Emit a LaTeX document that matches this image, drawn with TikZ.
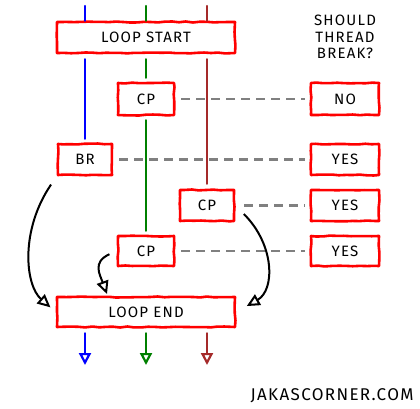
\documentclass[tikz,border=0pt]{standalone}
\usepackage{fontspec}
\usepackage{xcolor}
\usepackage{tikz}
\usetikzlibrary{arrows.meta,decorations.pathmorphing}
\newfontfamily\handfont[LetterSpace=8]{Fira Sans}
\definecolor{boxred}{RGB}{255, 0, 0}
\definecolor{threadblue}{RGB}{0, 0, 255}
\definecolor{threadgreen}{RGB}{0, 128, 0}
\definecolor{threadbrown}{RGB}{165, 42, 42}

\begin{document}
\begin{tikzpicture}[x = 1pt, y = -1pt,
	sketch/.style = {decorate, decoration = {random steps, segment length = 7pt, amplitude = 0.5pt}, line join = round},
	tag/.style = {draw = boxred, line width = 2.6pt, fill = white, inner sep = 0pt, font = \handfont\fontsize{15}{17}\selectfont, sketch},
	thread/.style = {line width = 2.4pt, line cap = round},
	answer/.style = {draw = gray, line width = 2.6pt, dash pattern = on 9pt off 6pt},
	flow/.style = {line width = 2pt, -{Triangle[open, length = 13pt, width = 12pt, line width = 2pt]}},
	exit/.style = {thread, -{Triangle[open, length = 12pt, width = 12pt, line width = 2.2pt]}}]
	\pgfmathsetseed{7}
	\useasboundingbox (0,0) rectangle (420,409);
	% boxes
	\node (ls) at (146,37.5) [tag, minimum width = 178pt, minimum height = 31pt] {LOOP START};
	\node (cpa) at (146,99) [tag, minimum width = 56pt, minimum height = 32pt] {CP};
	\node (br) at (85,159.5) [tag, minimum width = 54pt, minimum height = 31pt] {BR};
	\node (cpb) at (207,205.5) [tag, minimum width = 54pt, minimum height = 31pt] {CP};
	\node (cpc) at (146,251) [tag, minimum width = 56pt, minimum height = 30pt] {CP};
	\node (le) at (146,312) [tag, minimum width = 178pt, minimum height = 30pt] {LOOP END};
	\node (no) at (345,99) [tag, minimum width = 68pt, minimum height = 32pt] {NO};
	\node (ya) at (345,159.5) [tag, minimum width = 68pt, minimum height = 31pt] {YES};
	\node (yb) at (345,205.5) [tag, minimum width = 68pt, minimum height = 31pt] {YES};
	\node (yc) at (345,251) [tag, minimum width = 68pt, minimum height = 30pt] {YES};
	\node (q) at (345,37) [align = center, font = \handfont\fontsize{15}{16.5}\selectfont] {SHOULD\\THREAD\\BREAK?};
	\node (site) at (332,396) [font = \handfont\fontsize{17}{19}\selectfont] {JAKASCORNER.COM};
	% thread ends
	\coordinate (ta) at (85,6);
	\coordinate (tb) at (146,6);
	\coordinate (tc) at (207,6);
	\coordinate (ea) at (85,365);
	\coordinate (eb) at (146,365);
	\coordinate (ec) at (207,365);
	\coordinate (hook) at (107,294);
	% threads
	\draw [thread, threadblue] (ta) -- (ta |- ls.north);
	\draw [thread, threadblue, shorten < = 5pt, shorten > = 4pt] (ta |- ls.south) -- (br.north);
	\draw [thread, threadgreen] (tb) -- (ls.north);
	\draw [thread, threadgreen, shorten < = 5pt, shorten > = 4pt] (ls.south) -- (cpa.north);
	\draw [thread, threadgreen, shorten < = 4pt, shorten > = 4pt] (cpa.south) -- (cpc.north);
	\draw [thread, threadbrown] (tc) -- (tc |- ls.north);
	\draw [thread, threadbrown, shorten < = 5pt, shorten > = 5pt] (tc |- ls.south) -- (cpb.north);
	\draw [exit, threadblue, shorten < = 5pt] (ta |- le.south) -- (ea);
	\draw [exit, threadgreen, shorten < = 5pt] (le.south) -- (eb);
	\draw [exit, threadbrown, shorten < = 5pt] (tc |- le.south) -- (ec);
	% answers
	\draw [answer, shorten < = 6pt, shorten > = 5pt] (cpa.east) -- (no.west);
	\draw [answer, shorten < = 6pt, shorten > = 5pt] (br.east) -- (ya.west);
	\draw [answer, shorten < = 9pt, shorten > = 5pt] (cpb.east) -- (yb.west);
	\draw [answer, shorten < = 6pt, shorten > = 5pt] (cpc.east) -- (yc.west);
	% jumps to loop end
	\draw [flow, shorten < = 10pt, shorten > = 7pt] (br.south west) .. controls (20,230) and (25,285) .. (le.west);
	\draw [flow, shorten < = 12pt, shorten > = 12pt] (cpb.east) .. controls (275,245) and (275,290) .. (le.east);
	\draw [flow, shorten < = 8pt] (cpc.west) .. controls (92,262) and (100,275) .. (hook);
\end{tikzpicture}
\end{document}
